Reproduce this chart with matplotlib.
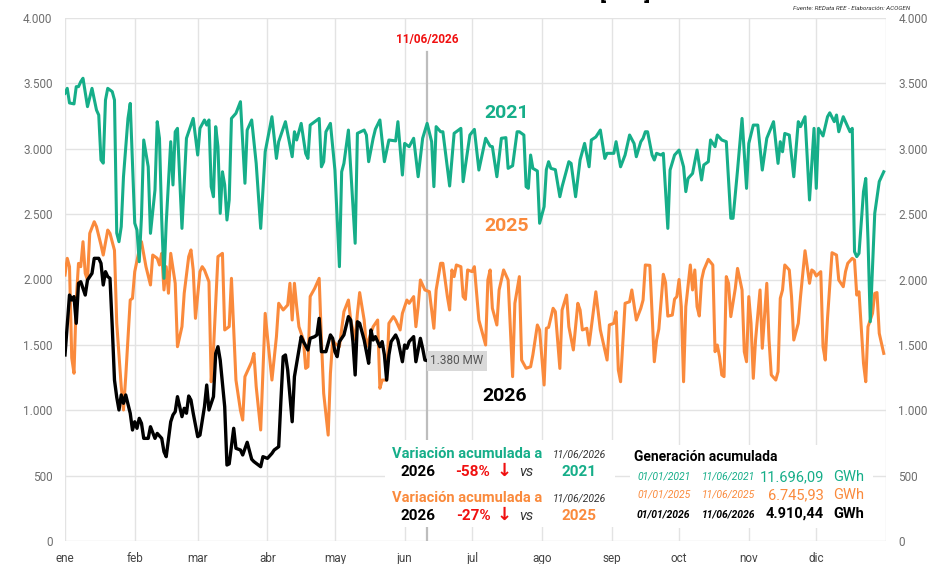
import numpy as np
import matplotlib.pyplot as plt
from matplotlib.ticker import FuncFormatter
from matplotlib.patches import Rectangle

plt.rcParams['font.family'] = ['Roboto', 'DejaVu Sans']

months = ["ene", "feb", "mar", "abr", "may", "jun", "jul", "ago", "sep", "oct", "nov", "dic"]
month_start = [0, 31, 59, 90, 120, 151, 181, 212, 243, 273, 304, 334]

# 2021 (day of year, MW)
d2021 = [0, 1, 2, 4, 5, 6, 7, 8, 10, 12, 14, 15, 16, 17, 18, 19, 21, 22, 23, 24, 25, 26, 28, 29,
         31, 32, 33, 34, 35, 37, 38, 40, 41, 42, 43, 44, 45, 47, 48, 49, 50, 52, 54, 57, 59, 60,
         62, 63, 64, 65, 66, 67, 68, 69, 70, 71, 72, 73, 74, 76, 78, 80, 81, 83, 85, 87, 89, 92,
         94, 95, 98, 101, 102, 103, 105, 107, 108, 109, 113, 114, 115, 116, 118, 120, 122, 123,
         124, 126, 129, 130, 133, 134, 135, 137, 138, 140, 142, 144, 147, 148, 150, 151, 153,
         155, 157, 159, 161, 163, 164, 165, 167, 168, 171, 173, 176, 177, 180, 182, 184, 187,
         189, 190, 192, 194, 196, 197, 199, 201, 202, 204, 205, 206, 207, 208, 210, 211, 213,
         214, 215, 216, 218, 220, 221, 224, 225, 227, 229, 231, 233, 234, 236, 238, 240, 241,
         244, 245, 247, 249, 251, 253, 254, 256, 257, 258, 259, 261, 262, 263, 265, 266, 268,
         269, 271, 273, 275, 276, 277, 279, 281, 283, 284, 286, 287, 289, 290, 292, 294, 296,
         297, 299, 301, 303, 304, 306, 308, 310, 312, 315, 317, 318, 319, 320, 322, 324, 326,
         327, 329, 331, 333, 334, 335, 337, 339, 340, 342, 343, 344, 346, 347, 349, 350, 351,
         352, 353, 355, 356, 357, 358, 360, 362, 364]
v2021 = [3424, 3462, 3350, 3343, 3475, 3475, 3513, 3539, 3322, 3462, 3296, 3258, 2914, 2890, 3373,
         3462, 3437, 3373, 2355, 2289, 2404, 2786, 3232, 3347, 2431, 2378, 2136, 2480, 3067, 2862,
         2353, 2684, 3207, 3080, 2455, 2009, 2431, 3054, 2723, 3130, 3156, 2391, 3080, 3232, 2952,
         3156, 3220, 3181, 3220, 2710, 2633, 3169, 3016, 2506, 2824, 2723, 2455, 2608, 3232, 3271,
         3360, 2736, 3143, 3220, 2888, 2391, 2977, 3245, 2926, 3054, 3207, 2939, 3130, 3067, 3194,
         2964, 2926, 3181, 3232, 2862, 2901, 3130, 3194, 2837, 2098, 2824, 2888, 3143, 2277, 3118,
         3143, 3105, 2901, 3080, 3150, 3220, 2901, 3067, 3060, 3207, 2799, 3041, 3016, 3080, 2786,
         3080, 3194, 3054, 2710, 3169, 3130, 3130, 2715, 3118, 3156, 2748, 3105, 3148, 2837, 3080,
         3020, 3016, 2786, 3080, 3085, 2850, 2870, 3130, 3130, 3105, 2710, 2697, 2952, 2850, 2830,
         2430, 2557, 2840, 2901, 2850, 2840, 2633, 2710, 2901, 2888, 2633, 2915, 3041, 2862, 3067,
         3090, 3143, 2926, 2965, 2965, 3054, 2862, 2952, 3105, 3040, 2939, 3054, 3080, 3130, 3130,
         2952, 2914, 2965, 2952, 2965, 2391, 2837, 2952, 2990, 2862, 2672, 2773, 2811, 2990, 2761,
         2876, 2901, 3067, 3016, 3105, 3067, 3054, 2468, 2468, 2837, 3232, 2697, 3041, 3181, 3181,
         2837, 3080, 3207, 2888, 3054, 2977, 3117, 3105, 2786, 3207, 3169, 3245, 2608, 3156, 2697,
         3156, 3098, 3245, 3275, 3207, 3258, 3130, 3245, 3207, 3130, 3156, 2213, 2175, 2200, 2672,
         2773, 2302, 1677, 2506, 2749, 2824]

# 2025 (day of year, MW)
d2025 = [0, 1, 2, 3, 4, 5, 6, 7, 8, 9, 10, 11, 13, 14, 16, 17, 19, 20, 22, 23, 25, 26, 27, 29, 30,
         31, 33, 34, 36, 38, 39, 41, 42, 43, 44, 45, 46, 47, 49, 50, 52, 53, 55, 56, 57, 58, 60,
         61, 62, 64, 65, 66, 68, 70, 71, 73, 74, 76, 78, 79, 80, 82, 83, 84, 85, 87, 89, 90, 92,
         94, 95, 97, 99, 100, 101, 102, 103, 104, 106, 107, 108, 109, 111, 113, 114, 115, 117,
         118, 119, 120, 122, 124, 126, 127, 129, 130, 131, 133, 134, 135, 137, 139, 140, 141,
         143, 144, 146, 147, 149, 150, 152, 153, 155, 156, 157, 158, 160, 162, 164, 165, 167,
         168, 170, 171, 172, 173, 174, 176, 177, 178, 179, 181, 182, 184, 187, 188, 189, 190,
         192, 193, 195, 197, 199, 200, 202, 203, 205, 207, 208, 210, 211, 213, 214, 215, 217,
         218, 220, 221, 223, 224, 226, 228, 229, 230, 232, 233, 235, 236, 238, 241, 242, 244,
         245, 246, 247, 249, 251, 252, 254, 256, 257, 258, 260, 261, 262, 263, 264, 266, 267,
         268, 270, 271, 272, 273, 274, 275, 276, 278, 279, 280, 281, 282, 283, 284, 286, 288,
         289, 290, 291, 292, 293, 294, 295, 296, 298, 299, 301, 302, 303, 304, 305, 306, 307,
         309, 310, 312, 313, 314, 316, 317, 318, 319, 320, 322, 323, 324, 326, 327, 329, 331,
         332, 333, 334, 336, 337, 338, 339, 341, 343, 344, 346, 347, 348, 350, 351, 352, 353,
         355, 356, 357, 358, 359, 360, 361, 362, 364]
v2025 = [2034, 2162, 2098, 1400, 1283, 1843, 2123, 2098, 2289, 2047, 1996, 2353, 2442, 2404, 2264,
         2187, 2378, 2353, 2223, 1665, 1181, 1002, 1257, 1843, 1856, 2060, 2226, 2289, 2098, 1958,
         2187, 2162, 2111, 2200, 1920, 2098, 1895, 2200, 1971, 1486, 1640, 1895, 2175, 2226, 2073,
         1703, 2060, 2098, 2073, 1983, 1218, 1461, 2175, 2200, 1614, 1640, 2009, 1231, 1000, 925,
         1257, 1333, 1371, 1435, 1181, 849, 1741, 1563, 1231, 1563, 1818, 1767, 1805, 1971, 1690,
         1971, 1793, 1639, 1537, 1320, 1333, 1870, 1932, 2009, 1537, 1130, 810, 1283, 1537, 1512,
         1486, 1754, 1843, 1690, 1537, 1741, 1900, 1690, 1486, 1537, 1639, 1690, 1168, 1231, 1231,
         1665, 1716, 1690, 1614, 1741, 1843, 1818, 1869, 1639, 1792, 1996, 1920, 1907, 1627, 1920,
         2124, 2124, 1869, 1767, 2073, 2022, 2111, 2098, 1869, 1848, 2073, 2060, 2098, 1690, 1499,
         1996, 2073, 1780, 1652, 1920, 2073, 1996, 1257, 1818, 2022, 1384, 1321, 1333, 1423, 1652,
         1614, 1193, 1627, 1634, 1780, 1754, 1320, 1767, 1881, 1639, 1461, 1818, 1767, 1614, 1627,
         1499, 1767, 1906, 1614, 1384, 1652, 1665, 1754, 1308, 1218, 1818, 1830, 1920, 1690, 1780,
         1843, 2111, 2108, 1741, 1371, 1537, 1620, 2040, 1977, 1720, 1728, 1850, 1869, 2000, 1792,
         1218, 1792, 2111, 1920, 2073, 1792, 1721, 1996, 2073, 2154, 2111, 1448, 1499, 1410, 1270,
         1257, 2022, 1971, 1716, 1932, 2085, 1920, 1448, 1371, 1869, 1665, 1244, 1537, 1920, 1474,
         1971, 1537, 1270, 1231, 1295, 1856, 1920, 2111, 2073, 1869, 1537, 1665, 1869, 2220, 1971,
         2073, 2060, 2027, 2060, 1486, 1384, 1703, 2205, 2187, 1996, 1945, 2060, 2124, 2162, 2149,
         1881, 1906, 1359, 1218, 1639, 1690, 1741, 1894, 1900, 1588, 1435]

# 2026 up to 11/06 (day of year, MW)
d2026 = [0, 2, 3, 4, 5, 6, 7, 9, 10, 12, 13, 15, 16, 17, 18, 19, 20, 21, 22, 23, 24, 25, 26, 27,
         29, 30, 31, 32, 33, 34, 35, 37, 38, 40, 41, 43, 44, 45, 47, 48, 49, 50, 52, 53, 54, 55,
         56, 57, 59, 60, 62, 63, 64, 66, 67, 68, 69, 71, 72, 73, 75, 76, 78, 79, 81, 83, 84, 87,
         88, 90, 92, 93, 95, 96, 97, 98, 99, 101, 102, 104, 105, 106, 108, 109, 111, 112, 113,
         114, 116, 118, 119, 120, 121, 122, 124, 126, 127, 128, 129, 130, 131, 133, 134, 135,
         136, 137, 138, 140, 141, 142, 143, 144, 145, 147, 148, 150, 151, 152, 153, 155, 156,
         158, 159, 160, 161]
v2026 = [1423, 1881, 1843, 1869, 1665, 1971, 1983, 1881, 1996, 2047, 2162, 2162, 2124, 1958, 2060,
         2022, 2009, 1639, 1231, 1100, 1002, 1117, 1053, 1117, 977, 849, 912, 862, 938, 900, 785,
         785, 874, 785, 823, 785, 683, 645, 912, 964, 989, 1104, 951, 1015, 977, 1109, 1078, 977,
         798, 810, 1027, 1193, 1002, 1104, 1435, 1486, 1384, 1027, 581, 590, 862, 709, 696, 658,
         755, 625, 607, 568, 645, 632, 670, 696, 721, 1078, 1410, 1423, 1308, 912, 1257, 1461, 1563,
         1525, 1461, 1550, 1563, 1576, 1703, 1448, 1448, 1576, 1550, 1448, 1410, 1525, 1576, 1716,
         1690, 1525, 1270, 1677, 1665, 1537, 1448, 1359, 1614, 1537, 1563, 1486, 1525, 1423, 1231,
         1423, 1525, 1576, 1537, 1371, 1499, 1474, 1525, 1563, 1371, 1550, 1474, 1384, 1380]

green = '#16ae89'
orange = '#fa8a3c'
red = '#f01010'

fig = plt.figure(figsize=(9.35, 5.64), dpi=100)
ax = fig.add_axes([65 / 935, 1 - 541 / 564, 821 / 935, 523 / 564])

ax.plot(d2025, v2025, color=orange, lw=2.2, zorder=3)
ax.plot(d2021, v2021, color=green, lw=2.2, zorder=4)
ax.plot(d2026, v2026, color='black', lw=2.4, zorder=5)
ax.plot([161, 161], [0, 3740], color='#bdbdbd', lw=1.6, zorder=2)

ax.set_xlim(0, 365)
ax.set_ylim(0, 4000)
yt = np.arange(0, 4001, 500)
ax.set_yticks(yt)
fmt = FuncFormatter(lambda v, p: f"{int(v):,}".replace(",", "."))
ax.yaxis.set_major_formatter(fmt)
ax.set_xticks(month_start + [365])
ax.set_xticklabels(months + [""])
ax.grid(True, color='#e3e3e3', lw=1.0, zorder=0)
for s in ax.spines.values():
    s.set_visible(False)
ax.tick_params(axis='both', length=0, labelsize=8.5, colors='#6e6e6e')
ax.tick_params(axis='x', pad=8, colors='#444444')
ax.tick_params(axis='y', pad=9)

ax2 = ax.twinx()
ax2.set_ylim(0, 4000)
ax2.set_yticks(yt)
ax2.yaxis.set_major_formatter(fmt)
for s in ax2.spines.values():
    s.set_visible(False)
ax2.tick_params(axis='y', length=0, labelsize=8.5, colors='#6e6e6e', pad=9)


def t(x, y, s, **kw):
    kw.setdefault('va', 'center')
    fig.text(x / 935, 1 - y / 564, s, **kw)


# white panels behind the summary tables
fig.add_artist(Rectangle((385 / 935, 1 - 527 / 564), 230 / 935, 87 / 564,
                         transform=fig.transFigure, facecolor='white', edgecolor='none', zorder=1))
fig.add_artist(Rectangle((630 / 935, 1 - 528 / 564), 243 / 935, 83 / 564,
                         transform=fig.transFigure, facecolor='white', edgecolor='none', zorder=1))

# title, cut off at the top edge as in the original
t(625, -1, "[MW]", ha='center', va='baseline', fontsize=16, weight='bold')
t(910, 8, "Fuente: REData REE - Elaboración: ACOGEN", ha='right', fontsize=4.5, style='italic', color='#333333')

t(427, 40, "11/06/2026", ha='center', fontsize=8.5, weight='bold', color=red)
t(507, 113, "2021", ha='center', fontsize=14, weight='bold', color=green)
t(507, 226, "2025", ha='center', fontsize=14, weight='bold', color=orange)
t(505, 396, "2026", ha='center', fontsize=14, weight='bold', color='black')
t(457, 361, "1.380 MW", ha='center', fontsize=8.5, color='#555555',
  bbox=dict(facecolor='#d9d9d9', edgecolor='none', boxstyle='square,pad=0.3'))

for yv, col, pct, ref in [(454, green, "-58%", "2021"), (498, orange, "-27%", "2025")]:
    t(392, yv, "Variación acumulada a", ha='left', fontsize=10.5, weight='bold', color=col)
    t(553, yv + 1, "11/06/2026", ha='left', fontsize=7.5, style='italic', color='#333333')
    t(418, yv + 18, "2026", ha='center', fontsize=11, weight='bold', color='black')
    t(473, yv + 18, pct, ha='center', fontsize=11, weight='bold', color=red)
    t(504, yv + 17, "↓", ha='center', fontsize=13, weight='bold', color=red,
      family=['DejaVu Sans'])
    t(526, yv + 18, "vs", ha='center', fontsize=10.5, style='italic', color='#333333')
    t(579, yv + 18, ref, ha='center', fontsize=11, weight='bold', color=col)

t(634, 457, "Generación acumulada", ha='left', fontsize=10, weight='bold', color='black')
rows = [(477, green, "01/01/2021", "11/06/2021", "11.696,09", 'normal'),
        (495, orange, "01/01/2025", "11/06/2025", "6.745,93", 'normal'),
        (514, 'black', "01/01/2026", "11/06/2026", "4.910,44", 'bold')]
for yv, col, d0, d1, val, w in rows:
    t(637, yv, d0, ha='left', fontsize=7.5, style='italic', weight=w, color=col)
    t(702, yv, d1, ha='left', fontsize=7.5, style='italic', weight=w, color=col)
    t(824, yv, val, ha='right', fontsize=10.5, weight=w, color=col)
    t(833, yv, "GWh", ha='left', fontsize=10.5, weight=w, color=col)

fig.savefig("out.png", dpi=100)
